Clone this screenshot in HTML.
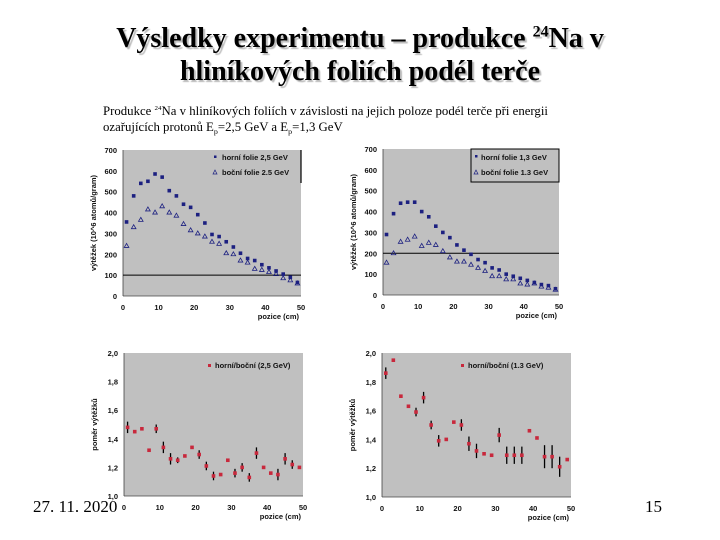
<!DOCTYPE html>
<html><head><meta charset="utf-8"><style>
body{margin:0;width:720px;height:540px;background:#fff;overflow:hidden;position:relative;font-family:"Liberation Serif",serif}
.t{position:absolute;left:0;width:720px;text-align:center;font-weight:bold;font-size:28px;color:#000;text-shadow:2px 2px 1px #bbb;line-height:32px}
.t sup{line-height:0}
.sub{position:absolute;left:103px;font-size:12.8px;color:#000;white-space:nowrap;transform:scaleY(0.95)}
.foot{position:absolute;font-size:17px;color:#000}
svg{position:absolute;left:0;top:0}
svg text{font-family:"Liberation Sans",sans-serif;font-weight:bold;font-size:7.5px;fill:#111}
</style></head><body>
<div class="t" style="top:23px">Výsledky experimentu – produkce <sup style="font-size:16px">24</sup>Na v</div>
<div class="t" style="top:56px">hliníkových foliích podél terče</div>
<div class="sub" style="top:104px">Produkce <sup style="font-size:7px">24</sup>Na v hliníkových foliích v závislosti na jejich poloze podél terče při energii</div>
<div class="sub" style="top:120px">ozařujících protonů E<sub style="font-size:8px">p</sub>=2,5 GeV a E<sub style="font-size:8px">p</sub>=1,3 GeV</div>
<svg id="s" width="720" height="540"></svg>
<div class="foot" style="left:33px;top:497px">27. 11. 2020</div>
<div class="foot" style="left:645px;top:497px">15</div>
<script>
const positions=[1,3,5,7,9,11,13,15,17,19,21,23,25,27,29,31,33,35,37,39,41,43,45,47,49];
const top25=[355,480,540,550,585,570,505,480,440,425,390,350,295,285,260,235,205,180,170,150,135,120,105,90,65];
const side25=[240,330,365,415,400,430,400,385,345,315,300,285,260,250,205,200,170,160,130,125,115,105,85,75,60];
const top13=[290,390,440,445,445,400,375,330,300,275,240,215,195,170,155,130,120,100,90,80,70,60,50,45,30];
const side13=[155,200,255,265,280,235,250,240,210,180,160,160,145,130,115,90,90,75,75,55,50,55,40,35,25];
const ratio25=[1.48,1.45,1.47,1.32,1.47,1.34,1.26,1.25,1.28,1.34,1.29,1.21,1.14,1.15,1.25,1.16,1.20,1.13,1.30,1.20,1.16,1.15,1.26,1.22,1.20];
const err25=[.04,.01,.01,.01,.03,.04,.04,.02,.01,.01,.03,.03,.03,.01,.01,.03,.03,.03,.04,.01,.01,.04,.04,.03,.01];
const ratio13=[1.86,1.95,1.70,1.63,1.59,1.69,1.50,1.39,1.40,1.52,1.50,1.37,1.32,1.30,1.29,1.43,1.29,1.29,1.29,1.46,1.41,1.28,1.28,1.21,1.26];
const err13=[.04,0,0,0,.03,.04,.03,.04,0,0,.04,.05,.05,0,0,.05,.06,.06,.06,0,0,.08,.08,.07,0];
const yTicksA=[0,100,200,300,400,500,600,700];
const yTicksB=[1.0,1.2,1.4,1.6,1.8,2.0];
const xTicks=[0,10,20,30,40,50];
const S=document.getElementById('s');const NS='http://www.w3.org/2000/svg';
function el(t,a,p){const e=document.createElementNS(NS,t);for(const k in a)e.setAttribute(k,a[k]);(p||S).appendChild(e);return e;}
function chart(c){
 const g=el('g',{});
 const X=v=>c.x0+(v-0)/50*(c.x1-c.x0), Y=v=>c.y1-(v-c.ymin)/(c.ymax-c.ymin)*(c.y1-c.y0);
 const bg=el('rect',{x:c.x0,y:c.y0,width:c.x1-c.x0,height:c.y1-c.y0,fill:'#c0c0c0'},g);
 
 el('line',{x1:c.x0,y1:c.y0,x2:c.x0,y2:c.y1,stroke:'#444','stroke-width':0.8},g);
 el('line',{x1:c.x0,y1:c.y1,x2:c.x1,y2:c.y1,stroke:'#444','stroke-width':0.8},g);
 c.yt.forEach(v=>{const t=el('text',{x:c.x0-6,y:Y(v)+3,'text-anchor':'end'},g);t.textContent=c.fmt(v);
  });
 xTicks.forEach(v=>{const t=el('text',{x:X(v),y:c.y1+14,'text-anchor':'middle'},g);t.textContent=v;
  });
 const xt=el('text',{x:c.x1-2,y:c.y1+23,'text-anchor':'end'},g);xt.textContent='pozice (cm)';
 
 const yt=el('text',{x:0,y:0,'text-anchor':'middle',transform:`translate(${c.x0-27},${(c.y0+c.y1)/2}) rotate(-90)`},g);yt.textContent=c.ytitle;
 
 if(c.hline!=null){el('line',{x1:c.x0,x2:c.x1,y1:Y(c.hline),y2:Y(c.hline),stroke:'#000','stroke-width':1},g);}
 c.series.forEach(s=>{s.vals.forEach((v,i)=>{
  const px=X(positions[i]),py=Y(v);
  if(s.err&&s.err[i]>0){const l=el('line',{x1:px,x2:px,y1:Y(v+s.err[i]),y2:Y(v-s.err[i]),stroke:'#000','stroke-width':1.3},g);
   }
  let m;
  if(s.type==='tri'){m=el('path',{d:`M${px},${py-2.5}L${px+2.3},${py+1.5}L${px-2.3},${py+1.5}Z`,fill:'none',stroke:'#1c2080','stroke-width':0.8},g);}
  else if(s.type==='sq'){m=el('rect',{x:px-1.8,y:py-1.8,width:3.6,height:3.6,fill:'#1c2080'},g);}
  else{m=el('rect',{x:px-1.8,y:py-1.8,width:3.6,height:3.6,fill:'#c8283c'},g);}
  
 });});
 c.legend(g);
}
chart({name:'chart-yield-2.5gev',x0:123,x1:301,y0:150,y1:296,ymin:0,ymax:700,yt:yTicksA,fmt:v=>v,hline:100,
 ytitle:'výtěžek (10^6 atomů/gram)',
 series:[{vals:top25,type:'sq'},{vals:side25,type:'tri'}],
 legend:g=>{el('line',{x1:301,x2:301,y1:150,y2:183,stroke:'#000','stroke-width':1.2},g);
  el('rect',{x:214,y:155.5,width:2.5,height:2.5,fill:'#1c2080'},g);
  let t=el('text',{x:222,y:160},g);t.textContent='horní folie 2,5 GeV';
  el('path',{d:'M215,170L217,174L213,174Z',fill:'none',stroke:'#1c2080','stroke-width':0.7},g);
  t=el('text',{x:222,y:175},g);t.textContent='boční folie 2.5 GeV';}});
chart({name:'chart-yield-1.3gev',x0:383,x1:559,y0:149,y1:295,ymin:0,ymax:700,yt:yTicksA,fmt:v=>v,hline:200,
 ytitle:'výtěžek (10^6 atomů/gram)',
 series:[{vals:top13,type:'sq'},{vals:side13,type:'tri'}],
 legend:g=>{el('rect',{x:471,y:149,width:88,height:33,fill:'#c0c0c0',stroke:'#000','stroke-width':1},g);
  el('rect',{x:475,y:155,width:2.5,height:2.5,fill:'#1c2080'},g);
  let t=el('text',{x:481,y:160},g);t.textContent='horní folie 1,3 GeV';
  el('path',{d:'M476,170L478,174L474,174Z',fill:'none',stroke:'#1c2080','stroke-width':0.7},g);
  t=el('text',{x:481,y:175},g);t.textContent='boční folie 1.3 GeV';}});
chart({name:'chart-ratio-2.5gev',x0:124,x1:303,y0:353,y1:496,ymin:1,ymax:2,yt:yTicksB,fmt:v=>v.toFixed(1).replace('.',','),hline:null,
 ytitle:'poměr výtěžků',
 series:[{vals:ratio25,type:'dot',err:err25}],
 legend:g=>{el('rect',{x:208,y:364,width:3,height:3,fill:'#c8283c'},g);
  const t=el('text',{x:215,y:368},g);t.textContent='horní/boční (2,5 GeV)';}});
chart({name:'chart-ratio-1.3gev',x0:382,x1:571,y0:353,y1:497,ymin:1,ymax:2,yt:yTicksB,fmt:v=>v.toFixed(1).replace('.',','),hline:null,
 ytitle:'poměr výtěžků',
 series:[{vals:ratio13,type:'dot',err:err13}],
 legend:g=>{el('rect',{x:461,y:364,width:3,height:3,fill:'#c8283c'},g);
  const t=el('text',{x:468,y:368},g);t.textContent='horní/boční (1.3 GeV)';}});
</script>
</body></html>
